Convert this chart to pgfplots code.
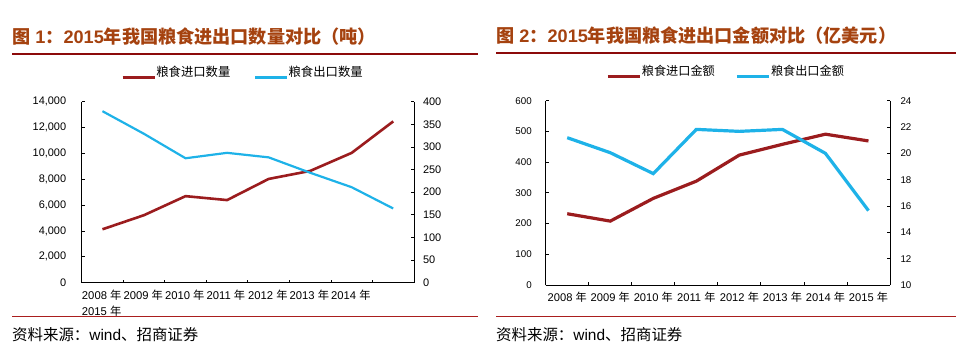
\documentclass[border=0pt]{standalone}
\usepackage{fontspec}
\setmainfont{Liberation Sans}
\newfontfamily\cjk{Noto Sans CJK SC}
\usepackage{pgfplots}
\pgfplotsset{compat=1.18}
\definecolor{impred}{RGB}{155,28,30}
\definecolor{expblue}{RGB}{30,178,232}
\definecolor{titlec}{RGB}{165,66,15}
\definecolor{rulec}{RGB}{140,10,10}
\definecolor{srcrule}{RGB}{170,30,30}
\newcommand\nian{{\cjk 年}}
\pgfplotsset{
  base/.style={
    scale only axis, anchor=south west,
    xmin=-0.5, xmax=7.5,
    tick align=inside,
    axis line style={-, black, line width=0.8bp},
    major tick length=3bp, minor tick length=3bp,
    every tick/.style={black, line width=0.8bp},
    scaled y ticks=false,
    /pgf/number format/assume math mode=true,
    /pgf/number format/1000 sep={,},
  },
  legimg/.style={legend image code/.code={\draw[##1] (0bp,-6bp) -- (32bp,-6bp);}},
}
\begin{document}
\begin{tikzpicture}
\path[use as bounding box] (0,0) rectangle (956bp,359bp);
% titles
\node[anchor=west, inner sep=0, text=titlec, font=\fontsize{18.2}{20}\selectfont\bfseries] at (12bp,322bp)
  {{\cjk 图} 1{\cjk ：}2015{\cjk 年我国粮食进出口数量对比（吨）}};
\node[anchor=west, inner sep=0, text=titlec, font=\fontsize{18.2}{20}\selectfont\bfseries] at (496bp,323bp)
  {{\cjk 图} 2{\cjk ：}2015{\cjk 年我国粮食进出口金额对比（亿美元）}};
\draw[rulec, line width=2bp] (12bp,304.7bp) -- (478bp,304.7bp);
\draw[rulec, line width=2bp] (496bp,305.7bp) -- (956bp,305.7bp);
\draw[srcrule, line width=1bp] (12bp,42.3bp) -- (478bp,42.3bp);
\draw[srcrule, line width=1bp] (496bp,42.3bp) -- (956bp,42.3bp);
\node[anchor=west, inner sep=0, font=\fontsize{15.5}{17}\selectfont] at (12bp,24bp) {{\cjk 资料来源：}wind{\cjk 、招商证券}};
\node[anchor=west, inner sep=0, font=\fontsize{15.5}{17}\selectfont] at (496bp,24bp) {{\cjk 资料来源：}wind{\cjk 、招商证券}};

% ---------- chart 1 ----------
\begin{axis}[base, at={(81.7bp,76.3bp)}, width=332.3bp, height=181bp,
  axis x line*=bottom, axis y line*=left,
  ymin=0, ymax=14000, ytick={0,2000,...,14000},
  xtick={0,...,7}, major x tick style={draw=none},
  minor xtick={0.5,1.5,...,6.5},
  xticklabels={2008 \nian,2009 \nian,2010 \nian,2011 \nian,2012 \nian,2013 \nian,2014 \nian,{}},
  xticklabel style={anchor=north west, xshift=-24bp, yshift=-4bp, font=\fontsize{11.3}{12}\selectfont},
  yticklabel style={xshift=-12bp, font=\fontsize{11}{12}\selectfont},
]
\addplot[impred, line width=2.6bp] coordinates {(0,4131) (1,5223) (2,6695) (3,6390) (4,8025) (5,8645) (6,10042) (7,12477)};
\end{axis}
\node[anchor=north west, inner sep=0, font=\fontsize{11.3}{12}\selectfont] at (81.7bp,53bp) {2015 \nian};
\begin{axis}[base, at={(81.7bp,76.3bp)}, width=332.3bp, height=181bp,
  axis x line=none, axis y line*=right,
  ymin=0, ymax=400, ytick={0,50,...,400},
  yticklabel style={xshift=5.5bp, font=\fontsize{11}{12}\selectfont},
  legimg,
  legend columns=2,
  legend style={at={(0.1183,1.1657)}, anchor=west, draw=none, fill=none, inner sep=0pt,
    font=\fontsize{12.4}{14}\selectfont\cjk, column sep=0pt,
    nodes={inner xsep=0.5pt, inner ysep=1pt},
    /tikz/every even column/.append style={column sep=23bp}},
]
\addlegendimage{impred, line width=2.6bp}
\addlegendentry{粮食进口数量}
\addplot[expblue, line width=2.2bp] coordinates {(0,379) (1,329) (2,275) (3,287) (4,277) (5,243) (6,211) (7,164)};
\addlegendentry{粮食出口数量}
\end{axis}

% ---------- chart 2 ----------
\begin{axis}[base, at={(545.7bp,74bp)}, width=344.3bp, height=184.3bp,
  axis x line*=bottom, axis y line*=left,
  ymin=0, ymax=600, ytick={0,100,...,600},
  xtick={0,...,7}, major x tick style={draw=none},
  minor xtick={0.5,1.5,...,6.5},
  xticklabels={2008 \nian,2009 \nian,2010 \nian,2011 \nian,2012 \nian,2013 \nian,2014 \nian,2015 \nian},
  xticklabel style={anchor=north, yshift=-4bp, font=\fontsize{11.2}{12}\selectfont},
  yticklabel style={xshift=-10.5bp, font=\fontsize{9.8}{11}\selectfont},
]
\addplot[impred, line width=3.2bp] coordinates {(0,232) (1,208) (2,282) (3,338) (4,423) (5,458) (6,491) (7,469)};
\end{axis}
\begin{axis}[base, at={(545.7bp,74bp)}, width=344.3bp, height=184.3bp,
  axis x line=none, axis y line*=right,
  ymin=10, ymax=24, ytick={10,12,...,24},
  yticklabel style={xshift=7bp, font=\fontsize{9.8}{11}\selectfont},
  legimg,
  legend columns=2,
  legend style={at={(0.1751,1.161)}, anchor=west, draw=none, fill=none, inner sep=0pt,
    font=\fontsize{12.2}{14}\selectfont\cjk, column sep=0pt,
    nodes={inner xsep=0.5pt, inner ysep=1pt},
    /tikz/every even column/.append style={column sep=20bp}},
]
\addlegendimage{impred, line width=3.2bp}
\addlegendentry{粮食进口金额}
\addplot[expblue, line width=3.2bp] coordinates {(0,21.19) (1,20.05) (2,18.46) (3,21.82) (4,21.67) (5,21.82) (6,20.0) (7,15.65)};
\addlegendentry{粮食出口金额}
\end{axis}
\end{tikzpicture}
\end{document}
